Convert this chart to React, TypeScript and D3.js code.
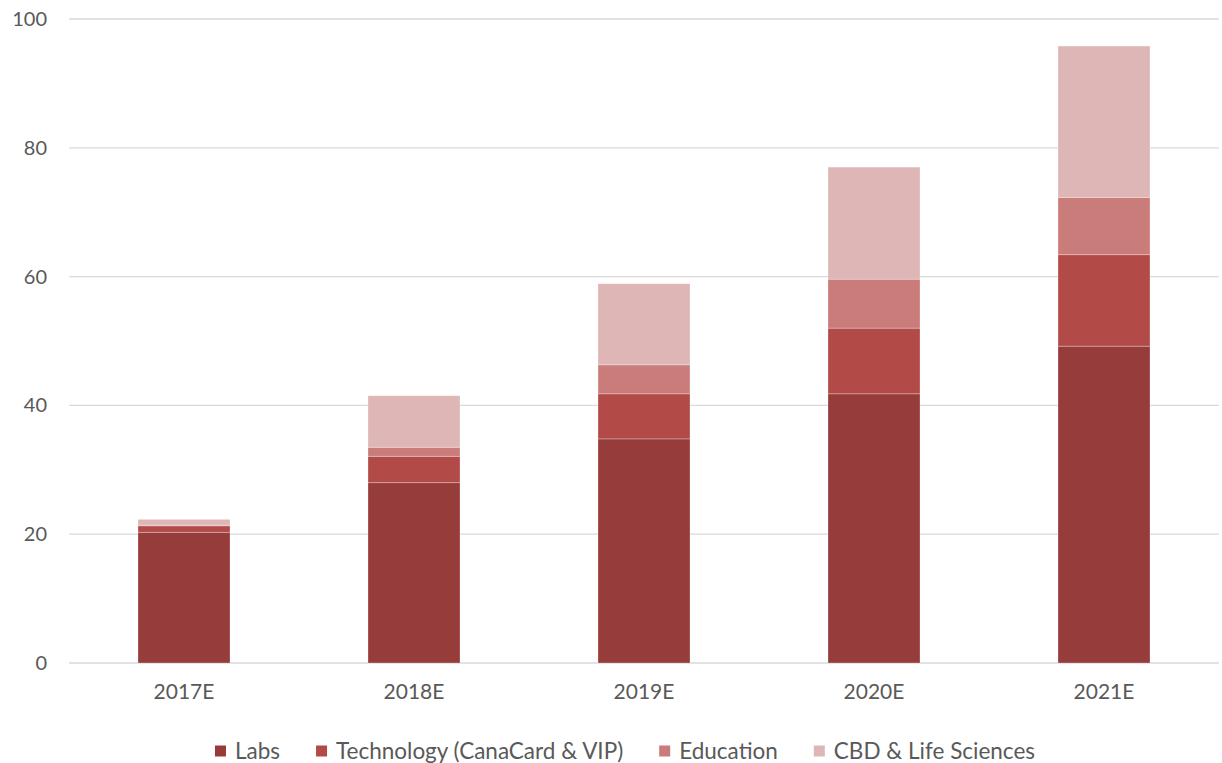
import React, { useEffect, useRef } from "react";
import * as d3 from "d3";

const years = ["2017E", "2018E", "2019E", "2020E", "2021E"];
const seriesNames = ["Labs", "Technology (CanaCard & VIP)", "Education", "CBD & Life Sciences"];
const labs = [20.3, 28.0, 34.8, 41.8, 49.2];
const technology = [1.0, 4.1, 7.0, 10.2, 14.2];
const education = [0.1, 1.4, 4.5, 7.6, 8.9];
const cbd = [0.9, 8.0, 12.6, 17.4, 23.5];
const yTicks = [0, 20, 40, 60, 80, 100];
const colors = ["#963c3b", "#b24b48", "#c97c7a", "#dfb6b6"];

const W = 1222;
const H = 763;
const FONT = "Lato, 'Open Sans', sans-serif";

function App() {
  const ref: React.MutableRefObject<SVGSVGElement | null> = useRef(null);

  useEffect(() => {
    const svg = d3.select(ref.current);
    svg.selectAll("*").remove();

    const rows = years.map((y, i) => ({
      year: y,
      s0: labs[i],
      s1: technology[i],
      s2: education[i],
      s3: cbd[i],
    }));
    const stack = d3.stack<any>().keys(["s0", "s1", "s2", "s3"]);
    const stacked = stack(rows);

    const x = d3.scaleBand().domain(years).range([69, 1219]).paddingInner(0.6).paddingOuter(0.3);
    const y = d3.scaleLinear().domain([0, 100]).range([663, 19]);

    // grid
    svg.append("g")
      .selectAll("line")
      .data(yTicks)
      .join("line")
      .attr("x1", 69)
      .attr("x2", 1219)
      .attr("y1", d => y(d))
      .attr("y2", d => y(d))
      .attr("stroke", "#d9d9d9")
      .attr("stroke-width", 1.3);

    svg.append("g")
      .selectAll("text")
      .data(yTicks)
      .join("text")
      .attr("x", 47)
      .attr("y", d => y(d))
      .attr("dy", "0.35em")
      .attr("text-anchor", "end")
      .attr("fill", "#595959")
      .style("font-family", FONT)
      .style("font-size", "20px")
      .text(d => d);

    // bars
    svg.append("g")
      .selectAll("g")
      .data(stacked)
      .join("g")
      .attr("fill", (d, i) => colors[i])
      .selectAll("rect")
      .data(d => d)
      .join("rect")
      .attr("x", (d: any) => x(d.data.year) as number)
      .attr("width", x.bandwidth())
      .attr("y", d => y(d[1]))
      .attr("height", d => y(d[0]) - y(d[1]))
      .attr("stroke", "rgba(255,255,255,0.35)")
      .attr("stroke-width", 0.8);

    // x labels
    svg.append("g")
      .selectAll("text")
      .data(years)
      .join("text")
      .attr("x", d => (x(d) as number) + x.bandwidth() / 2)
      .attr("y", 699)
      .attr("text-anchor", "middle")
      .attr("fill", "#595959")
      .style("font-family", FONT)
      .style("font-size", "21px")
      .text(d => d);

    // legend
    const legend = svg.append("g");
    const items = legend
      .selectAll("g")
      .data(seriesNames)
      .join("g");
    items.append("rect")
      .attr("width", 11)
      .attr("height", 11)
      .attr("y", -5.5)
      .attr("fill", (d, i) => colors[i]);
    items.append("text")
      .attr("x", 20)
      .attr("dy", "0.35em")
      .attr("fill", "#595959")
      .style("font-family", FONT)
      .style("font-size", "22.5px")
      .text(d => d);
    let offset = 0;
    const widths: number[] = [];
    items.each(function () {
      const t = d3.select(this).select("text").node() as SVGTextElement;
      widths.push(20 + t.getComputedTextLength());
    });
    const gap = 36;
    const total = d3.sum(widths) + gap * (widths.length - 1);
    const start = 625 - total / 2;
    items.attr("transform", (d, i) => {
      const tx = start + offset;
      offset += widths[i] + gap;
      return `translate(${tx},751)`;
    });
  }, []);

  return (
    <svg ref={ref} width={W} height={H} style={{ position: "absolute", left: 0, top: 0, background: "#fff" }} />
  );
}

export default App;
